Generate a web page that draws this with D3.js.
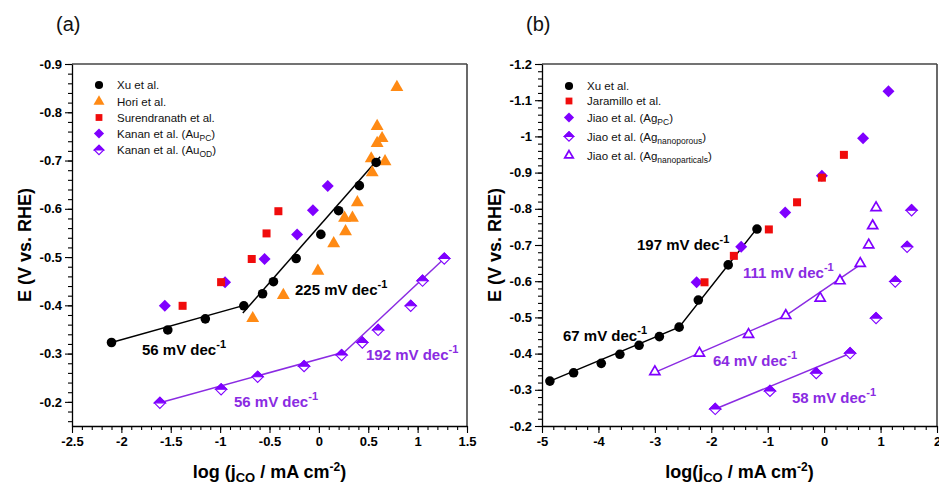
<!DOCTYPE html>
<html><head><meta charset="utf-8">
<script src="https://cdn.jsdelivr.net/npm/d3@7"></script>
<style>
body{margin:0;background:#fff}
svg{display:block;font-family:"Liberation Sans",Arial,Helvetica,sans-serif}
</style>
</head><body>
<svg id="c" width="939" height="486"></svg>
<script>
// ---------- Panel (a) data : [log j, E] ----------
const xuA = [[-2.10,-0.323],[-1.53,-0.349],[-1.15,-0.372],[-0.76,-0.399],[-0.57,-0.424],[-0.46,-0.449],[-0.23,-0.497],[0.02,-0.547],[0.20,-0.596],[0.41,-0.648],[0.58,-0.696]];
const horiA = [[-0.67,-0.373],[-0.36,-0.421],[-0.01,-0.471],[0.15,-0.528],[0.27,-0.553],[0.26,-0.581],[0.34,-0.581],[0.39,-0.613],[0.54,-0.675],[0.53,-0.704],[0.67,-0.698],[0.59,-0.736],[0.64,-0.746],[0.59,-0.771],[0.79,-0.852]];
const surenA = [[-1.38,-0.399],[-0.99,-0.448],[-0.68,-0.496],[-0.53,-0.549],[-0.41,-0.595]];
const kananPcA = [[-1.56,-0.399],[-0.95,-0.448],[-0.55,-0.496],[-0.22,-0.547],[-0.06,-0.597],[0.09,-0.647]];
const kananOdA = [[-1.61,-0.198],[-0.99,-0.226],[-0.62,-0.252],[-0.15,-0.274],[0.23,-0.297],[0.44,-0.323],[0.60,-0.349],[0.93,-0.399],[1.05,-0.451],[1.27,-0.497]];
const xuFitA1 = [[-2.10,-0.323],[-0.74,-0.401]];
const xuFitA2 = [[-0.77,-0.384],[0.62,-0.708]];
const kananFitA1 = [[-1.61,-0.198],[0.25,-0.303]];
const kananFitA2 = [[0.20,-0.292],[1.27,-0.497]];
const xTicksA = [-2.5,-2,-1.5,-1,-0.5,0,0.5,1,1.5];
const yTicksA = [-0.9,-0.8,-0.7,-0.6,-0.5,-0.4,-0.3,-0.2];

// ---------- Panel (b) data ----------
const xuB = [[-4.86,-0.324],[-4.44,-0.347],[-3.95,-0.373],[-3.62,-0.398],[-3.28,-0.423],[-2.92,-0.447],[-2.57,-0.473],[-2.23,-0.548],[-1.70,-0.645],[-1.19,-0.744]];
const jaramB = [[-2.12,-0.597],[-1.60,-0.670],[-0.98,-0.743],[-0.48,-0.818],[-0.04,-0.886],[0.35,-0.949]];
const jiaoPcB = [[-2.26,-0.597],[-1.47,-0.695],[-0.69,-0.790],[-0.04,-0.891],[0.69,-0.995],[1.14,-1.125]];
const jiaoPorB = [[1.55,-0.796],[1.47,-0.695],[1.26,-0.599],[0.92,-0.498],[-1.93,-0.247],[-0.96,-0.297],[-0.14,-0.346],[0.46,-0.401]];
const jiaoNpB = [[-3.00,-0.350],[-2.21,-0.401],[-1.34,-0.453],[-0.68,-0.505],[-0.07,-0.553],[0.28,-0.601],[0.64,-0.649],[0.79,-0.700],[0.86,-0.753],[0.92,-0.803]];
const xuFitB = [[-4.86,-0.324],[-2.57,-0.473],[-1.19,-0.746]];
const npFitB = [[-3.00,-0.348],[-0.68,-0.505],[0.70,-0.652]];
const porFitB = [[-1.93,-0.247],[0.50,-0.403]];
const xTicksB = [-5,-4,-3,-2,-1,0,1,2];
const yTicksB = [-1.2,-1.1,-1,-0.9,-0.8,-0.7,-0.6,-0.5,-0.4,-0.3,-0.2];

// ---------- colours ----------
const C = {black:"#000", orange:"#ff8a14", red:"#f00c0c", purple:"#7f00ff", pline:"#8a2be2"};

const svg = d3.select("#c");
const fmt = d => String(+d.toFixed(2));

function drawMarker(g, type, s){
  s = s || 1;
  if(type==="circle"){ g.append("circle").attr("r",4.8*s).attr("fill",C.black); }
  else if(type==="tri"){ g.append("path").attr("d",d3.symbol(d3.symbolTriangle,72*s*s)()).attr("fill",C.orange); }
  else if(type==="square"){ g.append("rect").attr("x",-4*s).attr("y",-4*s).attr("width",8*s).attr("height",8*s).attr("fill",C.red); }
  else if(type==="diamond"){ g.append("path").attr("d",`M0,${-6*s}L${6*s},0L0,${6*s}L${-6*s},0Z`).attr("fill",C.purple); }
  else if(type==="half"){
    g.append("path").attr("d",`M0,${-5.6*s}L${5.6*s},0L0,${5.6*s}L${-5.6*s},0Z`).attr("fill","#fff").attr("stroke",C.purple).attr("stroke-width",1.1);
    g.append("path").attr("d",`M${-5.6*s},0L0,${-5.6*s}L${5.6*s},0Z`).attr("fill",C.purple).attr("stroke",C.purple).attr("stroke-width",1.1);
  }
  else if(type==="otri"){
    g.append("path").attr("d",d3.symbol(d3.symbolTriangle,44*s*s)()).attr("fill","#fff").attr("stroke",C.purple).attr("stroke-width",1.7);
  }
}

function panel(cfg){
  const x = d3.scaleLinear().domain(cfg.xd).range([cfg.left,cfg.right]);
  const y = d3.scaleLinear().domain(cfg.yd).range([cfg.bottom,cfg.top]);
  const g = svg.append("g");

  g.append("line").attr("x1",cfg.left).attr("x2",cfg.right).attr("y1",cfg.top).attr("y2",cfg.top).attr("stroke","#444").attr("stroke-width",1.6);
  g.append("line").attr("x1",cfg.right).attr("x2",cfg.right).attr("y1",cfg.top).attr("y2",cfg.bottom).attr("stroke","#444").attr("stroke-width",1.6);

  const xm = d3.range(cfg.xd[0], cfg.xd[1]+1e-9, cfg.xMinor);
  const ym = d3.range(Math.min(...cfg.yd), Math.max(...cfg.yd)+1e-9, cfg.yMinor);
  g.append("g").attr("transform",`translate(0,${cfg.bottom})`)
    .call(d3.axisBottom(x).tickValues(xm).tickSize(4).tickFormat("")).call(a=>a.select(".domain").remove());
  g.append("g").attr("transform",`translate(${cfg.left},0)`)
    .call(d3.axisLeft(y).tickValues(ym).tickSize(4).tickFormat("")).call(a=>a.select(".domain").remove());
  const ax = g.append("g").attr("transform",`translate(0,${cfg.bottom})`)
    .call(d3.axisBottom(x).tickValues(cfg.xt).tickSize(7).tickPadding(4).tickSizeOuter(0).tickFormat(fmt));
  const ay = g.append("g").attr("transform",`translate(${cfg.left},0)`)
    .call(d3.axisLeft(y).tickValues(cfg.yt).tickSize(7).tickPadding(3).tickSizeOuter(0).tickFormat(fmt));
  [ax,ay].forEach(a=>{
    a.selectAll("text").attr("font-size",13).attr("font-weight","bold").attr("fill","#000").attr("font-family",'"Liberation Sans",Arial,sans-serif');
    a.select(".domain").attr("stroke","#000").attr("stroke-width",1.3);
  });
  g.selectAll(".tick line").attr("stroke","#000").attr("stroke-width",1.1);

  const line = d3.line().x(d=>x(d[0])).y(d=>y(d[1]));
  cfg.fits.forEach(f=>{
    g.append("path").attr("d",line(f.data)).attr("fill","none").attr("stroke",f.color).attr("stroke-width",1.5);
  });
  cfg.series.forEach(s=>{
    s.data.forEach(d=>{
      const m = g.append("g").attr("transform",`translate(${x(d[0])},${y(d[1])})`);
      drawMarker(m, s.type);
    });
  });

  cfg.legend.forEach(l=>{
    const m = g.append("g").attr("transform",`translate(${cfg.legX},${l.y})`);
    drawMarker(m, l.type, 0.85);
    const t = g.append("text").attr("x",cfg.legX+18).attr("y",l.y+4).attr("font-size",11.5).attr("fill","#111");
    t.append("tspan").text(l.text);
    if(l.sub){
      t.append("tspan").attr("font-size",8.5).attr("dy",3).text(l.sub);
      t.append("tspan").attr("dy",-3).text(")");
    }
  });

  cfg.notes.forEach(n=>{
    const t = g.append("text").attr("x",n.x).attr("y",n.y).attr("font-size",15).attr("font-weight","bold").attr("fill",n.color);
    t.append("tspan").text(n.text);
    t.append("tspan").attr("font-size",11).attr("dy",-7).text("-1");
  });

  g.append("text").attr("x",cfg.left-16).attr("y",31).attr("font-size",20).attr("fill","#111").text(cfg.label);

  const xt = g.append("text").attr("x",(cfg.left+cfg.right)/2).attr("y",478).attr("text-anchor","middle")
    .attr("font-size",18).attr("font-weight","bold").attr("fill","#000");
  xt.append("tspan").text(cfg.xTitle);
  xt.append("tspan").attr("font-size",13).attr("dy",4).text("CO");
  xt.append("tspan").attr("dy",-4).text(" / mA cm");
  xt.append("tspan").attr("font-size",12).attr("dy",-7).text("-2");
  xt.append("tspan").attr("dy",7).text(")");

  g.append("text").attr("transform",`translate(${cfg.yTitleX},${(cfg.top+cfg.bottom)/2}) rotate(-90)`)
    .attr("text-anchor","middle").attr("font-size",18).attr("font-weight","bold").attr("fill","#000")
    .text("E (V vs. RHE)");
}

panel({
  label:"(a)", left:72, right:467, top:64, bottom:426,
  xd:[-2.5,1.5], yd:[-0.15,-0.9], xt:xTicksA, yt:yTicksA, xMinor:0.1, yMinor:0.02,
  xTitle:"log (j", yTitleX:31,
  fits:[{data:xuFitA1,color:C.black},{data:xuFitA2,color:C.black},{data:kananFitA1,color:C.pline},{data:kananFitA2,color:C.pline}],
  series:[{data:kananOdA,type:"half"},{data:kananPcA,type:"diamond"},{data:surenA,type:"square"},{data:horiA,type:"tri"},{data:xuA,type:"circle"}],
  legX:99,
  legend:[{y:85,type:"circle",text:"Xu et al."},{y:101.5,type:"tri",text:"Hori et al."},{y:117.5,type:"square",text:"Surendranath et al."},
          {y:133.5,type:"diamond",text:"Kanan et al. (Au",sub:"PC"},{y:150,type:"half",text:"Kanan et al. (Au",sub:"OD"}],
  notes:[{x:142,y:355,text:"56 mV dec",color:C.black},{x:295,y:295,text:"225 mV dec",color:C.black},
         {x:234,y:407,text:"56 mV dec",color:C.pline},{x:366,y:360,text:"192 mV dec",color:C.pline}]
});

panel({
  label:"(b)", left:542, right:937, top:64, bottom:426,
  xd:[-5,2], yd:[-0.2,-1.2], xt:xTicksB, yt:yTicksB, xMinor:0.2, yMinor:0.02,
  xTitle:"log(j", yTitleX:501,
  fits:[{data:xuFitB,color:C.black},{data:npFitB,color:C.pline},{data:porFitB,color:C.pline}],
  series:[{data:jiaoNpB,type:"otri"},{data:jiaoPorB,type:"half"},{data:jiaoPcB,type:"diamond"},{data:jaramB,type:"square"},{data:xuB,type:"circle"}],
  legX:569,
  legend:[{y:86,type:"circle",text:"Xu et al."},{y:101,type:"square",text:"Jaramillo et al."},{y:117.5,type:"diamond",text:"Jiao et al. (Ag",sub:"PC"},
          {y:136.5,type:"half",text:"Jiao et al. (Ag",sub:"nanoporous"},{y:155.5,type:"otri",text:"Jiao et al. (Ag",sub:"nanoparticals"}],
  notes:[{x:637,y:250,text:"197 mV dec",color:C.black},{x:563,y:341,text:"67 mV dec",color:C.black},
         {x:743,y:278,text:"111 mV dec",color:C.pline},{x:713,y:366,text:"64 mV dec",color:C.pline},{x:792,y:403,text:"58 mV dec",color:C.pline}]
});
</script>
</body></html>
